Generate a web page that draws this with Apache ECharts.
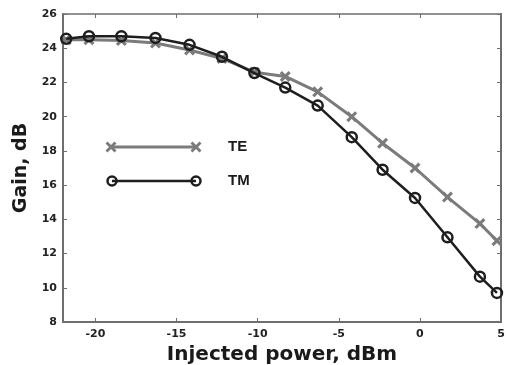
<!DOCTYPE html>
<html>
<head>
<meta charset="utf-8">
<script src="https://cdn.jsdelivr.net/npm/echarts@6/dist/echarts.min.js"></script>
<style>html,body{margin:0;padding:0;background:#fff}#c{width:506px;height:365px}</style>
</head>
<body>
<div id="c"></div>
<script>
var power = [-21.8, -20.4, -18.4, -16.3, -14.2, -12.2, -10.2, -8.3, -6.3, -4.2, -2.3, -0.3, 1.7, 3.7, 4.75];
var gainTE = [24.5, 24.5, 24.45, 24.3, 23.9, 23.4, 22.6, 22.35, 21.45, 20.0, 18.45, 17.0, 15.3, 13.75, 12.75];
var gainTM = [24.55, 24.7, 24.7, 24.6, 24.2, 23.5, 22.55, 21.7, 20.65, 18.8, 16.9, 15.25, 12.95, 10.65, 9.7];
var xTicks = [-20, -15, -10, -5, 0, 5];
var yTicks = [8, 10, 12, 14, 16, 18, 20, 22, 24, 26];
var seriesNames = ['TE', 'TM'];

var FONT = '"DejaVu Sans", "Liberation Sans", Arial, sans-serif';
var LFONT = '"Liberation Sans", Arial, sans-serif';
var TE_COLOR = '#7b7b7b';
var TM_COLOR = '#1e1e1e';
var AXIS_COLOR = '#6e6e6e';
var crossPath = 'path://M0,2 L2,0 L10,8 L8,10 Z M8,0 L10,2 L2,10 L0,8 Z';

function pairs(xs, ys) { return xs.map(function (x, i) { return [x, ys[i]]; }); }

function legendCross(cx, cy) {
  return [
    {type: 'line', shape: {x1: cx - 4.5, y1: cy - 4.5, x2: cx + 4.5, y2: cy + 4.5}, style: {stroke: TE_COLOR, lineWidth: 2.8}},
    {type: 'line', shape: {x1: cx + 4.5, y1: cy - 4.5, x2: cx - 4.5, y2: cy + 4.5}, style: {stroke: TE_COLOR, lineWidth: 2.8}}
  ];
}

var chart = echarts.init(document.getElementById('c'), null, {renderer: 'canvas'});

var axisBase = {
  axisLine: {show: true, onZero: false, lineStyle: {color: AXIS_COLOR, width: 2}},
  splitLine: {show: false}
};

var graphics = [
  {type: 'line', shape: {x1: 111, y1: 147, x2: 197, y2: 147}, style: {stroke: TE_COLOR, lineWidth: 3}}
].concat(legendCross(111, 147), legendCross(196, 147), [
  {type: 'text', x: 228, y: 147, style: {text: seriesNames[0], fontFamily: LFONT, fontWeight: 'bold', fontSize: 15, fill: '#1a1a1a', verticalAlign: 'middle'}},
  {type: 'line', shape: {x1: 112, y1: 181, x2: 196, y2: 181}, style: {stroke: TM_COLOR, lineWidth: 2.5}},
  {type: 'circle', shape: {cx: 112, cy: 181, r: 4.5}, style: {fill: 'rgba(0,0,0,0)', stroke: TM_COLOR, lineWidth: 2.5}},
  {type: 'circle', shape: {cx: 196, cy: 181, r: 4.5}, style: {fill: 'rgba(0,0,0,0)', stroke: TM_COLOR, lineWidth: 2.5}},
  {type: 'text', x: 228, y: 181, style: {text: seriesNames[1], fontFamily: LFONT, fontWeight: 'bold', fontSize: 15, fill: '#1a1a1a', verticalAlign: 'middle'}}
]);

var option = {
  animation: false,
  backgroundColor: '#fff',
  grid: {left: 63, right: 5, top: 14, bottom: 43, containLabel: false, outerBoundsMode: 'none'},
  xAxis: [
    Object.assign({}, axisBase, {
      type: 'value', min: -22, max: 5, position: 'bottom',
      name: 'Injected power, dBm', nameLocation: 'middle', nameGap: 21,
      nameTextStyle: {fontFamily: FONT, fontWeight: 'bold', fontSize: 20, color: '#1a1a1a'},
      axisTick: {show: true, inside: true, length: 4, customValues: xTicks, lineStyle: {color: AXIS_COLOR, width: 1}},
      axisLabel: {show: true, customValues: xTicks, margin: 7, fontFamily: FONT, fontWeight: 'bold', fontSize: 11, color: '#222'}
    }),
    Object.assign({}, axisBase, {
      type: 'value', min: -22, max: 5, position: 'top',
      axisLine: {show: true, onZero: false, lineStyle: {color: AXIS_COLOR, width: 1.5}},
      axisTick: {show: true, inside: true, length: 4, customValues: xTicks, lineStyle: {color: AXIS_COLOR, width: 1}},
      axisLabel: {show: false}
    })
  ],
  yAxis: [
    Object.assign({}, axisBase, {
      type: 'value', min: 8, max: 26, interval: 2, position: 'left',
      name: 'Gain, dB', nameLocation: 'middle', nameGap: 26, nameRotate: 90,
      nameTextStyle: {fontFamily: FONT, fontWeight: 'bold', fontSize: 19, color: '#1a1a1a'},
      axisTick: {show: true, inside: true, length: 4, lineStyle: {color: AXIS_COLOR, width: 1}},
      axisLabel: {show: true, margin: 6, fontFamily: FONT, fontWeight: 'bold', fontSize: 11, color: '#222'}
    }),
    Object.assign({}, axisBase, {
      type: 'value', min: 8, max: 26, interval: 2, position: 'right',
      axisLine: {show: true, onZero: false, lineStyle: {color: AXIS_COLOR, width: 2}},
      axisTick: {show: true, inside: true, length: 4, lineStyle: {color: AXIS_COLOR, width: 1}},
      axisLabel: {show: false}
    })
  ],
  series: [
    {
      name: seriesNames[0], type: 'line', xAxisIndex: 0, yAxisIndex: 0,
      data: pairs(power, gainTE),
      symbol: crossPath, symbolSize: 11,
      lineStyle: {color: TE_COLOR, width: 3},
      itemStyle: {color: TE_COLOR},
      z: 2
    },
    {
      name: seriesNames[1], type: 'line', xAxisIndex: 0, yAxisIndex: 0,
      data: pairs(power, gainTM),
      symbol: 'circle', symbolSize: 10,
      lineStyle: {color: TM_COLOR, width: 2.5},
      itemStyle: {color: 'rgba(0,0,0,0)', borderColor: TM_COLOR, borderWidth: 2.5},
      z: 3
    }
  ],
  graphic: graphics
};
chart.setOption(option);
</script>
</body>
</html>
